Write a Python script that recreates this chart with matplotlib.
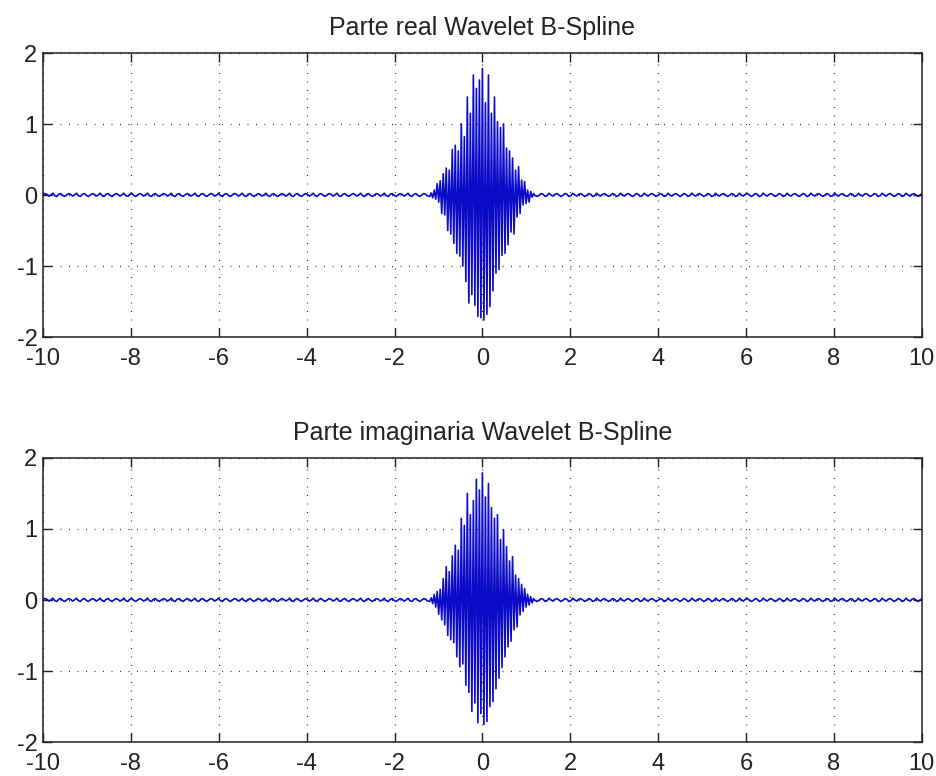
import numpy as np
import matplotlib
matplotlib.use("Agg")
import matplotlib.pyplot as plt

# burst samples, evenly spaced between -1.2 and 1.2
burst_x = np.linspace(-1.2, 1.2, 71)
real_burst = [-0.02, 0.03, -0.04, 0.07, -0.06, 0.16, -0.10, 0.20, -0.26, 0.30,
              -0.28, 0.38, -0.50, 0.35, -0.55, 0.64, -0.68, 0.70, -0.82, 0.62,
              -0.86, 1.00, -1.00, 0.82, -1.22, 1.38, -1.52, 1.15, -1.40, 1.69,
              -1.55, 1.50, -1.71, 1.62, -1.73, 1.78, -1.76, 1.30, -1.68, 1.69,
              -1.57, 1.15, -1.35, 1.38, -1.10, 1.03, -1.05, 0.95, -0.85, 1.00,
              -0.82, 0.66, -0.70, 0.62, -0.52, 0.52, -0.55, 0.35, -0.31, 0.40,
              -0.26, 0.21, -0.14, 0.19, -0.12, 0.07, -0.10, 0.05, -0.03, 0.02,
              -0.01]
imag_burst = [-0.02, 0.03, -0.05, 0.08, -0.10, 0.12, -0.20, 0.15, -0.28, 0.30,
              -0.35, 0.47, -0.50, 0.40, -0.56, 0.62, -0.60, 0.77, -0.80, 0.70,
              -0.94, 1.15, -0.90, 1.05, -1.20, 1.50, -1.30, 1.20, -1.57, 1.40,
              -1.45, 1.70, -1.73, 1.55, -1.60, 1.79, -1.75, 1.45, -1.71, 1.64,
              -1.50, 1.30, -1.43, 1.15, -1.25, 1.20, -1.10, 0.85, -0.95, 0.99,
              -0.80, 0.75, -0.66, 0.55, -0.58, 0.61, -0.42, 0.35, -0.38, 0.30,
              -0.21, 0.22, -0.16, 0.16, -0.10, 0.08, -0.07, 0.05, -0.04, 0.02,
              -0.01]

# small ripple seen on the flat tails
tail_ripple = [0.0, 0.02, 0.01, -0.015, 0.0, 0.025, -0.01, -0.02,
               0.01, 0.02, -0.005, -0.02]
left_x = np.linspace(-10, -1.2, 196, endpoint=False)
right_x = np.linspace(1.2, 10, 196)[1:]

xticks = [-10, -8, -6, -4, -2, 0, 2, 4, 6, 8, 10]
yticks = [-2, -1, 0, 1, 2]
titles = ["Parte real Wavelet B-Spline", "Parte imaginaria Wavelet B-Spline"]

plt.rcParams['font.family'] = ['Liberation Sans', 'DejaVu Sans']

fig = plt.figure(figsize=(9.36, 7.76), dpi=100)
ax1 = fig.add_axes([0.0459, 0.5657, 0.939, 0.366])
ax2 = fig.add_axes([0.0459, 0.0438, 0.939, 0.366])

for ax, burst, title in zip([ax1, ax2], [real_burst, imag_burst], titles):
    lx = np.resize(tail_ripple, len(left_x))
    rx = np.resize(tail_ripple[::-1], len(right_x))
    xs = np.concatenate([left_x, burst_x, right_x])
    ys = np.concatenate([lx, burst, rx])
    ax.plot(xs, ys, color='#0a0ac8', linewidth=1.2)
    ax.set_xlim(-10, 10)
    ax.set_ylim(-2, 2)
    ax.set_xticks(xticks)
    ax.set_yticks(yticks)
    ax.set_xticklabels([str(t) for t in xticks])
    ax.set_yticklabels([str(t) for t in yticks])
    ax.tick_params(direction='in', length=6.5, width=1.0, top=True, right=True,
                   labelsize=17, colors='#222222')
    ax.tick_params(axis='x', pad=8)
    ax.tick_params(axis='y', pad=4)
    ax.grid(True, color='#333333', linestyle=(0, (0.8, 6.0)), linewidth=0.9)
    for sp in ax.spines.values():
        sp.set_linewidth(1.1)
        sp.set_color('#222222')
    ax.set_title(title, fontsize=18, pad=13, color='#222222')

fig.savefig("out.png", dpi=100)
